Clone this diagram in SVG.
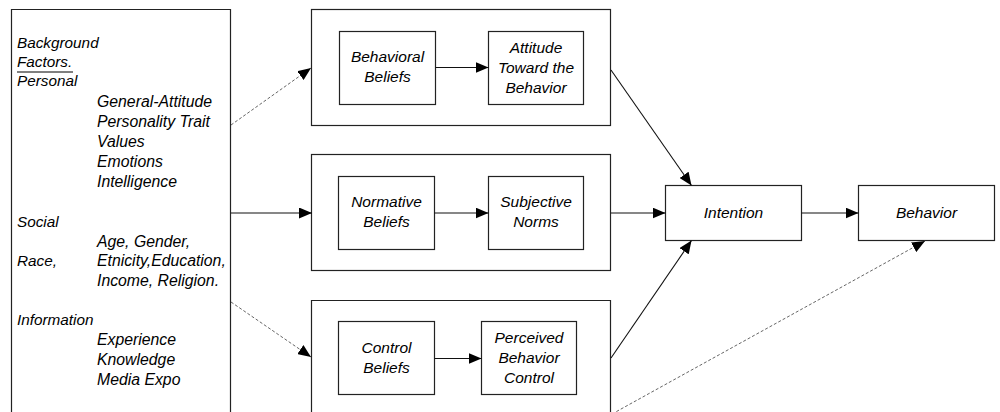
<svg xmlns="http://www.w3.org/2000/svg" width="1000" height="412" viewBox="0 0 1000 412">
<defs>
<marker id="ah" markerUnits="userSpaceOnUse" markerWidth="13" markerHeight="11" refX="13" refY="5.5" orient="auto" viewBox="0 0 13 11">
<path d="M0,0 L13,5.5 L0,11 z" fill="#000"/>
</marker>
</defs>
<style>
.box{fill:#fff;stroke:#222;stroke-width:1.2}
.open{fill:none;stroke:#222;stroke-width:1.2}
.t{font-family:"Liberation Sans",Arial,sans-serif;font-style:italic;font-size:15.3px;fill:#000}
.ti{font-size:15.8px}
.m{font-size:15.5px}
.c{text-anchor:middle}
.ln{stroke:#111;stroke-width:1.1;fill:none}
.ds{stroke:#555;stroke-width:0.9;stroke-dasharray:3 2;fill:none}
</style>
<rect width="1000" height="412" fill="#fff"/>
<g id="background-factors">
<path class="open" d="M11.5,413 V9.5 H230.5 V413"/>
<text class="t" x="17" y="48">Background</text>
<text class="t" x="17" y="67">Factors.</text>
<line x1="17" y1="72" x2="73" y2="72" stroke="#000" stroke-width="1"/>
<text class="t" x="17" y="86">Personal</text>
<text class="t ti" x="97" y="107">General-Attitude</text>
<text class="t ti" x="97" y="127">Personality Trait</text>
<text class="t ti" x="97" y="147">Values</text>
<text class="t ti" x="97" y="167">Emotions</text>
<text class="t ti" x="97" y="187">Intelligence</text>
<text class="t" x="17" y="227">Social</text>
<text class="t ti" x="97" y="247">Age, Gender,</text>
<text class="t" x="17" y="266">Race,</text>
<text class="t ti" x="97" y="266">Etnicity,Education,</text>
<text class="t ti" x="97" y="286">Income, Religion.</text>
<text class="t" x="17" y="325">Information</text>
<text class="t ti" x="97" y="345">Experience</text>
<text class="t ti" x="97" y="365">Knowledge</text>
<text class="t ti" x="97" y="385">Media Expo</text>
</g>
<g id="attitude-group">
<rect class="box" x="311.5" y="9.5" width="299" height="116"/>
</g>
<g id="norms-group">
<rect class="box" x="311.5" y="154.5" width="299" height="116"/>
</g>
<g id="control-group">
<path class="open" d="M311.5,413 V300.5 H610.5 V413"/>
</g>
<g id="behavioral-beliefs">
<rect class="box" x="339.5" y="31.5" width="96" height="73"/>
<text class="t m c" x="387.5" y="61.5">Behavioral</text>
<text class="t m c" x="387.5" y="81.5">Beliefs</text>
</g>
<g id="attitude">
<rect class="box" x="488.5" y="31.5" width="95" height="73"/>
<text class="t m c" x="536" y="53">Attitude</text>
<text class="t m c" x="536" y="73">Toward the</text>
<text class="t m c" x="536" y="93">Behavior</text>
</g>
<g id="normative-beliefs">
<rect class="box" x="338.5" y="176.5" width="96" height="73"/>
<text class="t m c" x="386.5" y="207">Normative</text>
<text class="t m c" x="386.5" y="227">Beliefs</text>
</g>
<g id="subjective-norms">
<rect class="box" x="488.5" y="176.5" width="95" height="73"/>
<text class="t m c" x="536" y="207">Subjective</text>
<text class="t m c" x="536" y="227">Norms</text>
</g>
<g id="control-beliefs">
<rect class="box" x="338.5" y="321.5" width="96" height="73"/>
<text class="t m c" x="386.5" y="353">Control</text>
<text class="t m c" x="386.5" y="373">Beliefs</text>
</g>
<g id="perceived-control">
<rect class="box" x="481.5" y="321.5" width="95" height="73"/>
<text class="t m c" x="529" y="343">Perceived</text>
<text class="t m c" x="529" y="363">Behavior</text>
<text class="t m c" x="529" y="383">Control</text>
</g>
<g id="intention">
<rect class="box" x="665.5" y="185.5" width="136" height="55"/>
<text class="t m c" x="733.5" y="218">Intention</text>
</g>
<g id="behavior">
<rect class="box" x="858.5" y="185.5" width="136" height="55"/>
<text class="t m c" x="926.5" y="218">Behavior</text>
</g>
<g id="connectors">
<line class="ln" x1="231" y1="213" x2="312" y2="213" marker-end="url(#ah)"/>
<line class="ds" x1="231" y1="125" x2="311" y2="68" marker-end="url(#ah)"/>
<line class="ds" x1="231" y1="302" x2="311" y2="357" marker-end="url(#ah)"/>
<line class="ln" x1="435.5" y1="67.5" x2="488.5" y2="67.5" marker-end="url(#ah)"/>
<line class="ln" x1="434.5" y1="213" x2="488.5" y2="213" marker-end="url(#ah)"/>
<line class="ln" x1="434.5" y1="358.5" x2="481.5" y2="358.5" marker-end="url(#ah)"/>
<line class="ln" x1="611" y1="70" x2="691.5" y2="185.5" marker-end="url(#ah)"/>
<line class="ln" x1="611" y1="213" x2="665.5" y2="213" marker-end="url(#ah)"/>
<line class="ln" x1="611" y1="358" x2="691.5" y2="240.5" marker-end="url(#ah)"/>
<line class="ln" x1="801.5" y1="213" x2="858.5" y2="213" marker-end="url(#ah)"/>
<line class="ds" x1="612" y1="414" x2="925" y2="241" marker-end="url(#ah)"/>
</g>
</svg>
